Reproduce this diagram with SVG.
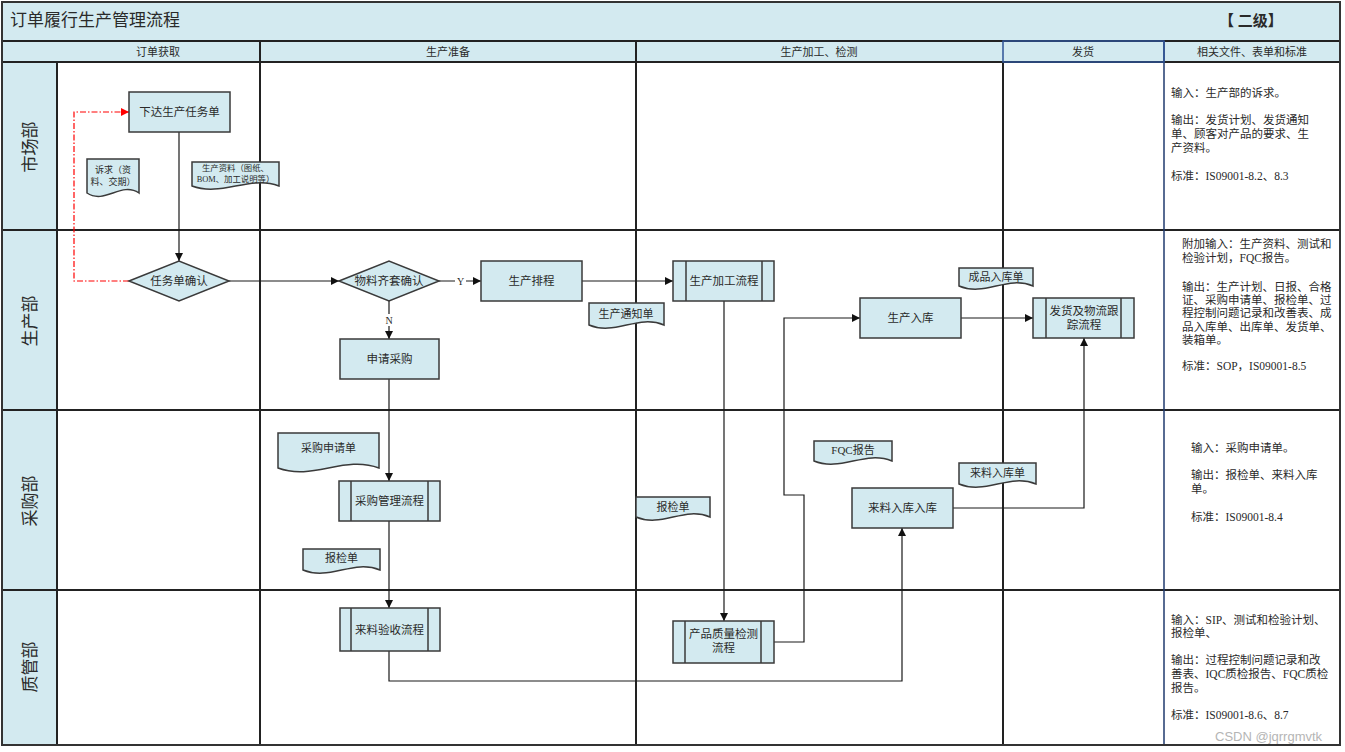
<svg xmlns="http://www.w3.org/2000/svg" width="1345" height="752" viewBox="0 0 1345 752">
<style>
.t{font-family:'Liberation Serif','Noto Sans CJK SC',serif;fill:#2a2a2a}
.box{fill:#D3EAF0;stroke:#3a3a3a;stroke-width:1.5}
.bar{stroke:#3a3a3a;stroke-width:1.5;fill:none}
.c{stroke:#1a1a1a;stroke-width:1.2;fill:none}
.red{stroke:#FF0000;stroke-width:1.2;fill:none;stroke-dasharray:6 2 1.5 2}
.grid{stroke:#222;stroke-width:2;fill:none}
.bt{font-size:11.5px;text-anchor:middle;dominant-baseline:central}
.dt{font-size:11px;text-anchor:middle;dominant-baseline:central}
.st{font-size:12px;text-anchor:middle;dominant-baseline:central}
.nt{font-size:11.5px;dominant-baseline:central}
.ht{font-size:11px;text-anchor:middle;dominant-baseline:central}
.lt{font-size:17px;text-anchor:middle;dominant-baseline:central}
</style>
<defs>
<marker id="a" viewBox="0 0 10 10" refX="10" refY="5" markerWidth="9" markerHeight="8" markerUnits="userSpaceOnUse" orient="auto"><path d="M0,0 L10,5 L0,10z" fill="#111"/></marker>
<marker id="ar" viewBox="0 0 10 10" refX="10" refY="5" markerWidth="9" markerHeight="8" markerUnits="userSpaceOnUse" orient="auto"><path d="M0,0 L10,5 L0,10z" fill="#FF0000"/></marker>
</defs>
<rect x="0" y="0" width="1345" height="752" fill="#fff"/>
<g id="frame">
<rect x="2" y="2" width="1338" height="39" fill="#D3EAF0"/>
<rect x="2" y="41" width="1338" height="21" fill="#D3EAF0"/>
<rect x="2" y="62" width="55" height="683" fill="#D3EAF0"/>
<line class="grid" x1="2" y1="41" x2="1340" y2="41"/>
<line class="grid" x1="2" y1="62" x2="1340" y2="62"/>
<line class="grid" x1="2" y1="230" x2="1340" y2="230"/>
<line class="grid" x1="2" y1="410" x2="1340" y2="410"/>
<line class="grid" x1="2" y1="590" x2="1340" y2="590"/>
<line class="grid" x1="57" y1="62" x2="57" y2="745"/>
<line class="grid" x1="260" y1="41" x2="260" y2="745"/>
<line class="grid" x1="636" y1="41" x2="636" y2="745"/>
<line class="grid" x1="1003" y1="62" x2="1003" y2="745"/>
<line x1="1164" y1="41" x2="1164" y2="745" stroke="#1F3A6E" stroke-width="1.5"/>
<rect x="1003" y="41" width="161" height="21" fill="none" stroke="#2F5496" stroke-width="1.5"/>
<rect x="2" y="2" width="1338" height="743" fill="none" stroke="#333" stroke-width="2"/>
<text class="t" x="10" y="20" font-size="17" dominant-baseline="central">订单履行生产管理流程</text>
<text class="t" x="1251" y="21" font-size="15" font-weight="bold" text-anchor="middle" dominant-baseline="central">【 二级】</text>
<text class="t ht" x="158" y="51.5">订单获取</text>
<text class="t ht" x="448" y="51.5">生产准备</text>
<text class="t ht" x="819" y="51.5">生产加工、检测</text>
<text class="t ht" x="1083" y="51.5">发货</text>
<text class="t ht" x="1252" y="51.5">相关文件、表单和标准</text>
<text class="t lt" transform="translate(30,147) rotate(-90)">市场部</text>
<text class="t lt" transform="translate(30,321) rotate(-90)">生产部</text>
<text class="t lt" transform="translate(30,501) rotate(-90)">采购部</text>
<text class="t lt" transform="translate(30,667) rotate(-90)">质管部</text>
</g>
<g id="connectors">
<path class="c" d="M179,132 V261" marker-end="url(#a)"/>
<path class="red" d="M129,281 H74 V112 H129" marker-end="url(#ar)"/>
<path class="c" d="M229,281 H339" marker-end="url(#a)"/>
<path class="c" d="M439,281 H455 M466,281 H481" marker-end="url(#a)"/>
<text class="t" x="460.5" y="281" font-size="10" text-anchor="middle" dominant-baseline="central">Y</text>
<path class="c" d="M389,301 V314 M389,326 V339" marker-end="url(#a)"/>
<text class="t" x="389" y="320" font-size="10" text-anchor="middle" dominant-baseline="central">N</text>
<path class="c" d="M389,379 V481" marker-end="url(#a)"/>
<path class="c" d="M582,281 H673" marker-end="url(#a)"/>
<path class="c" d="M389,521 V608" marker-end="url(#a)"/>
<path class="c" d="M724,301 V621" marker-end="url(#a)"/>
<path class="c" d="M774,642 H804 V495 H784 V318 H860" marker-end="url(#a)"/>
<path class="c" d="M961,318 H1033" marker-end="url(#a)"/>
<path class="c" d="M389,651 V681 H902 V528" marker-end="url(#a)"/>
<path class="c" d="M953,508 H1084 V338" marker-end="url(#a)"/>
</g>
<g id="n-xiada"><rect class="box" x="129" y="92" width="101" height="40"/><text class="t bt" x="179.5" y="112">下达生产任务单</text></g>
<g id="n-renwu"><polygon class="box" points="129,281 179,261 229,281 179,301"/><text class="t bt" x="179" y="281">任务单确认</text></g>
<g id="n-wuliao"><polygon class="box" points="339,281 389,261 439,281 389,301"/><text class="t bt" x="389" y="281">物料齐套确认</text></g>
<g id="n-paicheng"><rect class="box" x="481" y="261" width="101" height="40"/><text class="t bt" x="531.5" y="281">生产排程</text></g>
<g id="n-shenqing"><rect class="box" x="340" y="339" width="99" height="40"/><text class="t bt" x="389.5" y="359">申请采购</text></g>
<g id="n-jiagong"><rect class="box" x="673" y="261" width="101" height="40"/><line class="bar" x1="686" y1="261" x2="686" y2="301"/><line class="bar" x1="762" y1="261" x2="762" y2="301"/><text class="t bt" x="724" y="281">生产加工流程</text></g>
<g id="n-ruku"><rect class="box" x="860" y="298" width="101" height="40"/><text class="t bt" x="910.5" y="318">生产入库</text></g>
<g id="n-fahuo"><rect class="box" x="1033" y="298" width="101" height="40"/><line class="bar" x1="1046" y1="298" x2="1046" y2="338"/><line class="bar" x1="1121" y1="298" x2="1121" y2="338"/><text class="t bt" x="1084" y="311">发货及物流跟</text><text class="t bt" x="1084" y="325">踪流程</text></g>
<g id="n-caigou"><rect class="box" x="339" y="481" width="101" height="40"/><line class="bar" x1="351" y1="481" x2="351" y2="521"/><line class="bar" x1="428" y1="481" x2="428" y2="521"/><text class="t bt" x="389.5" y="501">采购管理流程</text></g>
<g id="n-laoliao"><rect class="box" x="852" y="488" width="101" height="40"/><text class="t bt" x="902.5" y="508">来料入库入库</text></g>
<g id="n-yanshou"><rect class="box" x="340" y="608" width="100" height="43"/><line class="bar" x1="351" y1="608" x2="351" y2="651"/><line class="bar" x1="428" y1="608" x2="428" y2="651"/><text class="t bt" x="389.5" y="630" font-size="11">来料验收流程</text></g>
<g id="n-zhiliang"><rect class="box" x="673" y="621" width="101" height="42"/><line class="bar" x1="685" y1="621" x2="685" y2="663"/><line class="bar" x1="761" y1="621" x2="761" y2="663"/><text class="t bt" x="723.5" y="634" font-size="11">产品质量检测</text><text class="t bt" x="723.5" y="648" font-size="11">流程</text></g>
<g id="d-suqiu"><path class="box" d="M87,159 H139 V193 C121,181 105,205 87,193 Z"/><text class="t st" transform="translate(113,170) scale(0.75)">诉求（资</text><text class="t st" transform="translate(113,182) scale(0.75)">料、交期）</text></g>
<g id="d-ziliao"><path class="box" d="M192,162 H279 V186 C249,175 222,197 192,186 Z"/><text class="t st" transform="translate(235.5,168) scale(0.7)">生产资料（图纸、</text><text class="t st" transform="translate(235.5,179) scale(0.7)">BOM、加工说明等）</text></g>
<g id="d-tongzhi"><path class="box" d="M589,303 H664 V325 C638,314 615,336 589,325 Z"/><text class="t dt" x="626" y="314">生产通知单</text></g>
<g id="d-chengpin"><path class="box" d="M959,268 H1033 V286 C1007,275 985,297 959,286 Z"/><text class="t dt" x="996" y="277">成品入库单</text></g>
<g id="d-shenqingdan"><path class="box" d="M278,433 H379 V468 C344,455 313,481 278,468 Z"/><text class="t dt" x="328.5" y="448">采购申请单</text></g>
<g id="d-baojian1"><path class="box" d="M303,549 H380 V570 C353,559 330,581 303,570 Z"/><text class="t dt" x="341.5" y="558">报检单</text></g>
<g id="d-baojian2"><path class="box" d="M636,497 H710 V517 C684,506 662,528 636,517 Z"/><text class="t dt" x="673" y="507">报检单</text></g>
<g id="d-fqc"><path class="box" d="M814,441 H892 V461 C865,450 841,472 814,461 Z"/><text class="t dt" x="853" y="450">FQC报告</text></g>
<g id="d-laoliaodan"><path class="box" d="M959,463 H1036 V484 C1009,473 986,495 959,484 Z"/><text class="t dt" x="997.5" y="473">来料入库单</text></g>
<g id="notes">
<text class="t nt" x="1171" y="93">输入：生产部的诉求。</text>
<text class="t nt" x="1171" y="120">输出：发货计划、发货通知</text>
<text class="t nt" x="1171" y="134">单、顾客对产品的要求、生</text>
<text class="t nt" x="1171" y="148">产资料。</text>
<text class="t nt" x="1171" y="176">标准：IS09001-8.2、8.3</text>
<text class="t nt" x="1182" y="244">附加输入：生产资料、测试和</text>
<text class="t nt" x="1182" y="258">检验计划，FQC报告。</text>
<text class="t nt" x="1182" y="287">输出：生产计划、日报、合格</text>
<text class="t nt" x="1182" y="300">证、采购申请单、报检单、过</text>
<text class="t nt" x="1182" y="313">程控制问题记录和改善表、成</text>
<text class="t nt" x="1182" y="327">品入库单、出库单、发货单、</text>
<text class="t nt" x="1182" y="340">装箱单。</text>
<text class="t nt" x="1182" y="366">标准：SOP，IS09001-8.5</text>
<text class="t nt" x="1191" y="448">输入：采购申请单。</text>
<text class="t nt" x="1191" y="475">输出：报检单、来料入库</text>
<text class="t nt" x="1191" y="489">单。</text>
<text class="t nt" x="1191" y="517">标准：IS09001-8.4</text>
<text class="t nt" x="1171" y="620">输入：SIP、测试和检验计划、</text>
<text class="t nt" x="1171" y="633">报检单、</text>
<text class="t nt" x="1171" y="660">输出：过程控制问题记录和改</text>
<text class="t nt" x="1171" y="674">善表、IQC质检报告、FQC质检</text>
<text class="t nt" x="1171" y="688">报告。</text>
<text class="t nt" x="1171" y="715">标准：IS09001-8.6、8.7</text>
<text x="1215" y="736" font-family="'Liberation Sans','Noto Sans',sans-serif" font-size="13" fill="#b5b5b5" dominant-baseline="central">CSDN @jqrrgmvtk</text>
</g>
</svg>
